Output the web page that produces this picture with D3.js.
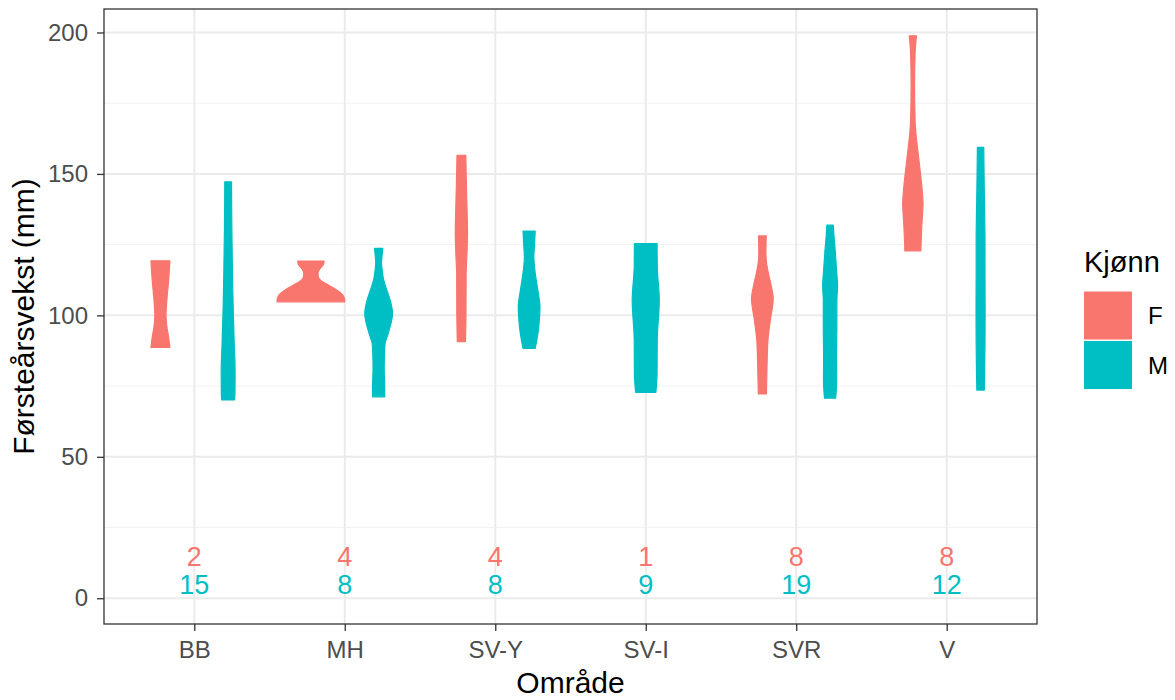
<!DOCTYPE html>
<html>
<head>
<meta charset="utf-8">
<script src="https://cdn.jsdelivr.net/npm/d3@7"></script>
<style>
  html, body { margin: 0; padding: 0; background: #fff; }
  svg { display: block; font-family: "Liberation Sans", Arial, sans-serif; }
</style>
</head>
<body>
<svg id="chart" width="1175" height="700"></svg>
<script>
// ---- data ----
const categories = ["BB", "MH", "SV-Y", "SV-I", "SVR", "V"];
const sexes = ["F", "M"];
const sexColors = ["#F8766D", "#00BFC4"];
const countsF = [2, 4, 4, 1, 8, 8];
const countsM = [15, 8, 8, 9, 19, 12];
const yTicks = [0, 50, 100, 150, 200];
const yMinor = [25, 75, 125, 175];

// violin profiles: [value (mm), relative density width]
const violinBB_F = [[88.7,0.28],[92.4,0.24],[96,0.19],[100,0.165],[105.4,0.19],[112,0.24],[119.3,0.28]];
const violinBB_M = [[70.1,0.19],[72,0.2],[80,0.205],[90,0.18],[100,0.155],[110,0.135],[118,0.125],[130,0.11],[140,0.103],[147.2,0.1]];
const violinMH_F = [[104.8,1.0],[106,0.99],[107.5,0.92],[109,0.76],[110.5,0.55],[112,0.33],[113.5,0.22],[115,0.21],[116.5,0.27],[118,0.37],[119.2,0.39]];
const violinMH_M = [[71.2,0.18],[74.8,0.18],[80.7,0.165],[85.4,0.17],[90,0.19],[92.4,0.25],[96,0.34],[100.7,0.41],[105,0.35],[109,0.24],[113,0.14],[116,0.105],[118.5,0.085],[121,0.1],[123.7,0.12]];
const violinSVY_F = [[90.7,0.12],[100,0.135],[114.8,0.14],[122,0.165],[129,0.18],[136,0.17],[145,0.15],[156.6,0.13]];
const violinSVY_M = [[88.3,0.18],[93.6,0.26],[98,0.3],[103,0.32],[108,0.27],[112.5,0.21],[117,0.16],[120.7,0.14],[125,0.16],[129.8,0.18]];
const violinSVI_M = [[72.8,0.3],[79.6,0.335],[91.3,0.34],[105.4,0.4],[117.2,0.34],[125.4,0.335]];
const violinSVR_F = [[72.2,0.12],[81.8,0.137],[91.3,0.165],[98.3,0.235],[106,0.32],[110.5,0.26],[114.8,0.18],[118.5,0.123],[121.9,0.105],[128.1,0.115]];
const violinSVR_M = [[70.7,0.165],[77.1,0.195],[85.4,0.19],[96,0.2],[105.4,0.2],[110.1,0.22],[117,0.185],[123.1,0.15],[128,0.115],[131.9,0.095]];
const violinV_F = [[122.8,0.237],[125.4,0.243],[131.3,0.263],[139.6,0.3],[145,0.27],[151.3,0.214],[159.6,0.134],[165,0.086],[169,0.066],[180.8,0.051],[192.6,0.066],[198.8,0.106]];
const violinV_M = [[73.6,0.11],[79.5,0.12],[90,0.13],[103,0.134],[115,0.13],[126.7,0.13],[140,0.115],[150,0.103],[159.4,0.094]];

const violinsF = [violinBB_F, violinMH_F, violinSVY_F, null, violinSVR_F, violinV_F];
const violinsM = [violinBB_M, violinMH_M, violinSVY_M, violinSVI_M, violinSVR_M, violinV_M];

// ---- layout ----
const panel = {left: 104, right: 1037, top: 9, bottom: 624};
const svg = d3.select("#chart");

const x = d3.scalePoint().domain(categories).range([panel.left, panel.right]).padding(0.6);
const step = x.step();
const y = d3.scaleLinear().domain([-9.1, 208.3]).range([panel.bottom, panel.top]);
const w = d3.scaleLinear().domain([0, 1]).range([0, 0.225 * step]);
const color = d3.scaleOrdinal().domain(sexes).range(sexColors);

// panel background
svg.append("rect").attr("x", panel.left).attr("y", panel.top)
  .attr("width", panel.right - panel.left).attr("height", panel.bottom - panel.top)
  .attr("fill", "#fff");

// grid
const grid = svg.append("g");
grid.selectAll(".minor").data(yMinor).join("line")
  .attr("x1", panel.left).attr("x2", panel.right)
  .attr("y1", d => y(d)).attr("y2", d => y(d))
  .attr("stroke", "#F2F2F2").attr("stroke-width", 1);
grid.selectAll(".majy").data(yTicks).join("line")
  .attr("x1", panel.left).attr("x2", panel.right)
  .attr("y1", d => y(d)).attr("y2", d => y(d))
  .attr("stroke", "#EBEBEB").attr("stroke-width", 2);
grid.selectAll(".majx").data(categories).join("line")
  .attr("y1", panel.top).attr("y2", panel.bottom)
  .attr("x1", d => x(d)).attr("x2", d => x(d))
  .attr("stroke", "#EBEBEB").attr("stroke-width", 2);

// violins
const area = d3.area()
  .curve(d3.curveMonotoneY)
  .y(d => y(d[0]));

const vg = svg.append("g");
categories.forEach((cat, i) => {
  const groups = [];
  if (violinsF[i]) groups.push({sex: "F", prof: violinsF[i]});
  if (violinsM[i]) groups.push({sex: "M", prof: violinsM[i]});
  const n = groups.length;
  groups.forEach((g, j) => {
    const off = n === 2 ? (j === 0 ? -0.225 : 0.225) * step : 0;
    const cx = x(cat) + off;
    area.x0(d => cx - w(d[1])).x1(d => cx + w(d[1]));
    vg.append("path")
      .attr("d", area(g.prof))
      .attr("fill", color(g.sex))
      .attr("stroke", color(g.sex))
      .attr("stroke-width", 1.2)
      .attr("stroke-linejoin", "round");
  });
});

// counts
const tg = svg.append("g").attr("font-size", 27).attr("text-anchor", "middle");
tg.selectAll(".cf").data(categories).join("text")
  .attr("x", d => x(d)).attr("y", y(15))
  .attr("dy", "0.36em")
  .attr("fill", color("F"))
  .text((d, i) => countsF[i]);
tg.selectAll(".cm").data(categories).join("text")
  .attr("x", d => x(d)).attr("y", y(5))
  .attr("dy", "0.36em")
  .attr("fill", color("M"))
  .text((d, i) => countsM[i]);

// panel border
svg.append("rect").attr("x", panel.left).attr("y", panel.top)
  .attr("width", panel.right - panel.left).attr("height", panel.bottom - panel.top)
  .attr("fill", "none").attr("stroke", "#333333").attr("stroke-width", 1.3);

// axes
const yAxis = svg.append("g").attr("transform", `translate(${panel.left},0)`)
  .call(d3.axisLeft(y).tickValues(yTicks).tickSize(7).tickPadding(9));
const xAxis = svg.append("g").attr("transform", `translate(0,${panel.bottom})`)
  .call(d3.axisBottom(x).tickSize(7).tickPadding(10));
[yAxis, xAxis].forEach(a => {
  a.select(".domain").remove();
  a.selectAll(".tick line").attr("stroke", "#333333").attr("stroke-width", 1.3);
  a.selectAll(".tick text").attr("fill", "#4D4D4D").attr("font-size", 24)
    .attr("font-family", "Liberation Sans, Arial, sans-serif");
});

// axis titles
svg.append("text")
  .attr("transform", `translate(34,${(panel.top + panel.bottom) / 2}) rotate(-90)`)
  .attr("text-anchor", "middle").attr("font-size", 30).attr("fill", "#000")
  .text("Førsteårsvekst (mm)");
svg.append("text")
  .attr("x", (panel.left + panel.right) / 2).attr("y", 693)
  .attr("text-anchor", "middle").attr("font-size", 30).attr("fill", "#000")
  .text("Område");

// legend
const lg = svg.append("g");
lg.append("text").attr("x", 1084).attr("y", 272).attr("font-size", 29).attr("fill", "#000").text("Kjønn");
const keySize = 47;
sexes.forEach((s, i) => {
  const ky = 292 + i * (keySize + 2.5);
  lg.append("rect").attr("x", 1084.5).attr("y", ky)
    .attr("width", keySize).attr("height", keySize)
    .attr("fill", color(s)).attr("stroke", color(s)).attr("stroke-width", 1);
  lg.append("text").attr("x", 1148).attr("y", ky + keySize / 2).attr("dy", "0.36em")
    .attr("font-size", 24).attr("fill", "#000").text(s);
});
</script>
</body>
</html>
